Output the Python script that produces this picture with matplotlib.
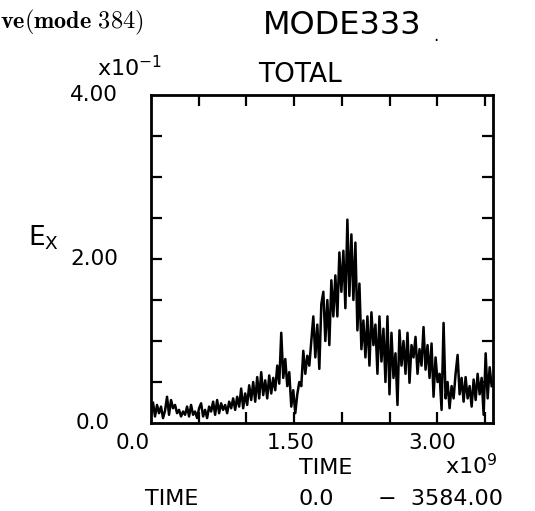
import numpy as np
import matplotlib
matplotlib.use("Agg")
import matplotlib.pyplot as plt

# E_x (in units of 1e-1) sampled every 0.021 (x1e9) in TIME
ex_vals = [
    0.10, 0.25, 0.08, 0.22, 0.12, 0.20, 0.06, 0.15, 0.32, 0.10,
    0.28, 0.18, 0.22, 0.12, 0.16, 0.08, 0.14, 0.10, 0.20, 0.08,
    0.22, 0.10, 0.14, 0.06, 0.18, 0.24, 0.08, 0.16, 0.06, 0.20,
    0.14, 0.26, 0.10, 0.28, 0.12, 0.24, 0.16, 0.22, 0.12, 0.26,
    0.18, 0.30, 0.16, 0.32, 0.20, 0.42,
    0.18, 0.36, 0.22, 0.46, 0.28, 0.50, 0.26, 0.56, 0.30, 0.62,
    0.34, 0.52, 0.30, 0.58, 0.36, 0.55, 0.40, 0.70, 0.48,
    1.10, 0.55, 0.78, 0.45, 0.62, 0.20, 0.40, 0.12, 0.35, 0.50,
    0.45, 0.88, 0.60, 0.82, 0.70, 1.00, 1.30, 0.80, 1.20, 0.66,
    1.45, 1.60, 1.00, 1.50, 0.95, 1.74, 1.30, 1.80, 1.30, 2.08,
    1.60, 2.10, 1.40, 2.48, 1.55, 2.30, 1.50, 2.20, 1.13, 1.70,
    0.90,
    1.25, 0.80, 1.30, 0.70, 1.35, 0.95, 1.20, 0.60, 1.30, 0.75,
    1.15, 0.50, 1.30, 0.35,
    1.10, 0.55, 0.85, 0.22, 1.13, 0.70, 1.00, 0.60, 1.10, 0.49,
    0.95, 0.80, 1.05, 0.60, 0.90, 0.70,
    1.17, 0.65, 0.95, 0.55, 0.97, 0.32, 0.80, 0.50, 0.60, 0.16,
    1.22, 0.30, 0.50, 0.18, 0.45,
    0.30, 0.60, 0.83, 0.35, 0.55, 0.26, 0.56, 0.30, 0.45, 0.20,
    0.53, 0.28, 0.60, 0.35, 0.55, 0.10, 0.85, 0.30, 0.68, 0.45,
]
dt = 0.021
t_end = 3.584
x_ticks = [0.5, 1.0, 1.5, 2.0, 2.5, 3.0, 3.5]
y_ticks = [0.5, 1.0, 1.5, 2.0, 2.5, 3.0, 3.5]
x_labels = [(0.0, "0.0", -0.19), (1.5, "1.50", -0.04), (3.0, "3.00", -0.05)]
y_labels = [(0.0, "0.0", -0.12), (2.0, "2.00", -0.096), (4.0, "4.00", -0.096)]

t = np.arange(len(ex_vals)) * dt

W, H = 535, 511
fig = plt.figure(figsize=(W / 100, H / 100), dpi=100)
ax = fig.add_axes([151 / W, 1 - 423 / H, 342 / W, 328 / H])

ax.plot(t, ex_vals, color="black", lw=1.8)
ax.set_xlim(0, t_end)
ax.set_ylim(0, 4)
ax.set_xticks(x_ticks)
ax.set_yticks(y_ticks)
ax.tick_params(direction="in", length=8, width=1.6, top=True, right=True,
               labelbottom=False, labelleft=False)
for s in ax.spines.values():
    s.set_linewidth(2)

fs = 15.5
for xv, lab, off in x_labels:
    ax.text(xv + off, -0.03, lab, transform=ax.get_xaxis_transform(),
            ha="center", va="top", fontsize=fs)
for yv, lab, off in y_labels:
    ax.text(off, yv, lab, transform=ax.get_yaxis_transform(),
            ha="right", va="center", fontsize=fs)


def ftext(x, y, s, **kw):
    fig.text(x / W, 1 - y / H, s, **kw)


ftext(0, 22, r"$\mathbf{ve(mode\ 384)}$", math_fontfamily="cm",
      fontsize=17.5, ha="left", va="center")
ftext(342, 25, "MODE333", fontsize=23, ha="center", va="center")
ftext(436, 36, ".", fontsize=12, ha="center", va="center")
ftext(300, 75, "TOTAL", fontsize=19, ha="center", va="center")
ftext(97, 68, r"x10$^{-1}$", fontsize=16, ha="left", va="center")
ftext(28, 238, r"E$_{\mathrm{X}}$", fontsize=19, ha="left", va="center")
ftext(326, 468, "TIME", fontsize=16, ha="center", va="center")
ftext(498, 466, r"x10$^{9}$", fontsize=16, ha="right", va="center")
ftext(145, 499, "TIME", fontsize=16, ha="left", va="center")
ftext(316, 499, "0.0", fontsize=16, ha="center", va="center")
ftext(503, 499, "\u2212  3584.00", fontsize=16, ha="right", va="center")

fig.savefig("out.png", dpi=100)
